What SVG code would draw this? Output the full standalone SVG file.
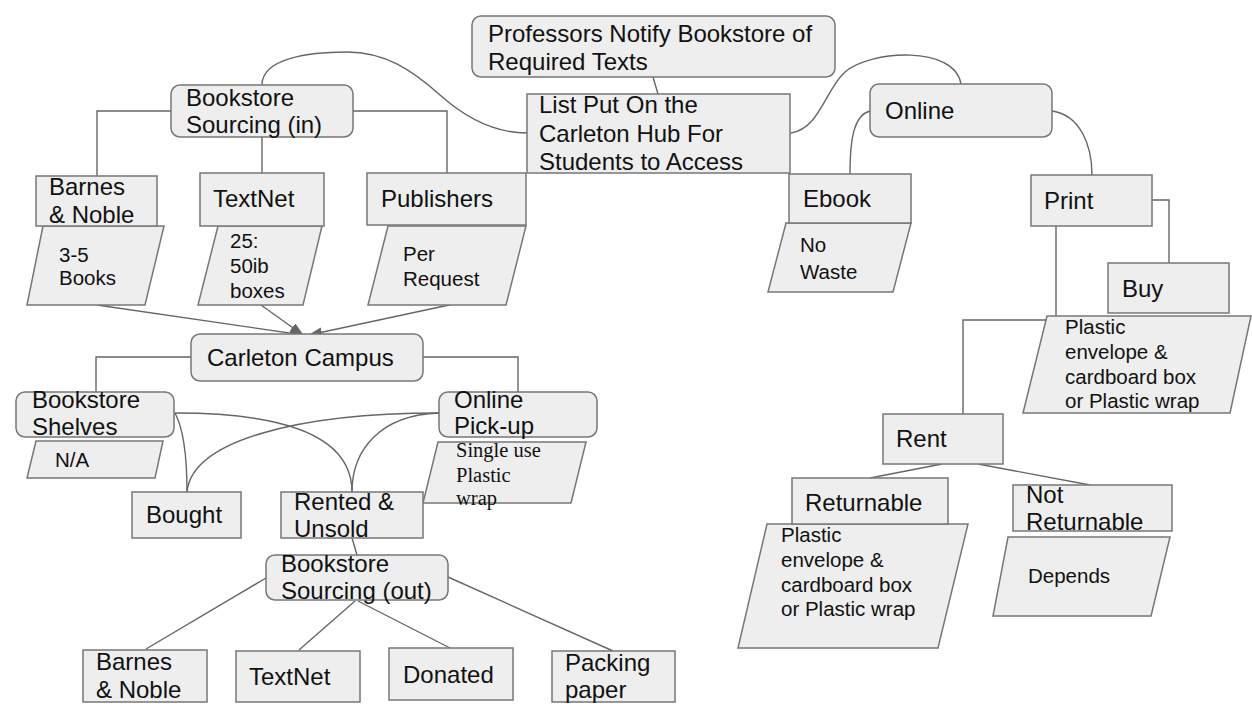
<svg xmlns="http://www.w3.org/2000/svg" width="1252" height="704" viewBox="0 0 1252 704">
<style>
.box{fill:#eeeeee;stroke:#777777;stroke-width:1.5}
.ln{fill:none;stroke:#666666;stroke-width:1.4}
.t{font-family:"Liberation Sans",Arial,sans-serif;font-size:24px;fill:#111111}
.s{font-family:"Liberation Sans",Arial,sans-serif;font-size:20.5px;fill:#111111}
.sf{font-family:"Liberation Serif","Times New Roman",serif;font-size:20.5px;fill:#111111}
</style>
<defs>
<marker id="ah" markerUnits="userSpaceOnUse" markerWidth="14" markerHeight="10" refX="13" refY="5" orient="auto">
<path d="M0,0 L14,5 L0,10 Z" fill="#666666"/>
</marker>
</defs>
<rect width="1252" height="704" fill="#ffffff"/>
<g id="connectors">
<path class="ln" d="M262,85 C262,58 310,52 347,52 C385,52 412,70 440,95 C468,120 498,133 527,133"/>
<path class="ln" d="M653,77 L658,94"/>
<path class="ln" d="M791,133 C820,128 825,90 845,72 C870,50 955,45 961,84"/>
<path class="ln" d="M171,111 H97 V176"/>
<path class="ln" d="M262,137 V173"/>
<path class="ln" d="M353,111 H447 V173"/>
<path class="ln" d="M97,305 L303,335" marker-end="url(#ah)"/>
<path class="ln" d="M261,305 L303,335" marker-end="url(#ah)"/>
<path class="ln" d="M463,302 L309,335" marker-end="url(#ah)"/>
<path class="ln" d="M191,357 H96 V392"/>
<path class="ln" d="M423,357 H518 V392"/>
<path class="ln" d="M175,413 C265,413 352,428 352,492"/>
<path class="ln" d="M175,413 C184,430 187,460 187,492"/>
<path class="ln" d="M187,492 C192,440 300,413 439,413"/>
<path class="ln" d="M439,413 C380,415 352,450 352,492"/>
<path class="ln" d="M352,538 L357,555"/>
<path class="ln" d="M266,578 L146,649"/>
<path class="ln" d="M355,601 L299,650"/>
<path class="ln" d="M358,601 L450,648"/>
<path class="ln" d="M448,577 L613,651"/>
<path class="ln" d="M870,111 C855,115 850,135 850,174"/>
<path class="ln" d="M1052,111 C1080,115 1092,145 1092,175"/>
<path class="ln" d="M1152,200 H1169 V263"/>
<path class="ln" d="M1056,217 V320 H963 V425"/>
<path class="ln" d="M942,464 L870,478"/>
<path class="ln" d="M978,464 L1090,485"/>
</g>
<g id="professors">
<rect class="box" x="472" y="16" width="363" height="61" rx="9"/>
<text class="t" x="488" y="42">Professors Notify Bookstore of</text>
<text class="t" x="488" y="70">Required Texts</text>
</g>
<g id="list">
<rect class="box" x="527" y="94" width="263" height="79"/>
<text class="t" x="539" y="113">List Put On the</text>
<text class="t" x="539" y="142">Carleton Hub For</text>
<text class="t" x="539" y="170">Students to Access</text>
</g>
<g id="sourcing-in">
<rect class="box" x="171" y="85" width="182" height="52" rx="9"/>
<text class="t" x="186" y="106">Bookstore</text>
<text class="t" x="186" y="133">Sourcing (in)</text>
</g>
<g id="bn-in">
<polygon class="box" points="43,226 164,226 145,305 27,305"/>
<rect class="box" x="36" y="176" width="121" height="50"/>
<text class="t" x="49" y="195">Barnes</text>
<text class="t" x="49" y="223">&amp; Noble</text>
<text class="s" x="59" y="262">3-5</text>
<text class="s" x="59" y="285">Books</text>
</g>
<g id="textnet-in">
<polygon class="box" points="218,226 322,226 303,305 198,305"/>
<rect class="box" x="200" y="173" width="124" height="53"/>
<text class="t" x="213" y="207">TextNet</text>
<text class="s" x="230" y="248">25:</text>
<text class="s" x="230" y="273">50ib</text>
<text class="s" x="230" y="298">boxes</text>
</g>
<g id="publishers">
<polygon class="box" points="388,226 526,226 506,305 368,305"/>
<rect class="box" x="367" y="173" width="159" height="52"/>
<text class="t" x="381" y="207">Publishers</text>
<text class="s" x="403" y="261">Per</text>
<text class="s" x="403" y="286">Request</text>
</g>
<g id="campus">
<rect class="box" x="191" y="334" width="232" height="47" rx="9"/>
<text class="t" x="207" y="366">Carleton Campus</text>
</g>
<g id="shelves">
<polygon class="box" points="36,441 163,441 155,478 27,478"/>
<rect class="box" x="16" y="392" width="158" height="45" rx="9"/>
<text class="t" x="32" y="408">Bookstore</text>
<text class="t" x="32" y="435">Shelves</text>
<text class="s" x="55" y="467">N/A</text>
</g>
<g id="pickup">
<polygon class="box" points="438,442 586,442 571,503 423,503"/>
<rect class="box" x="439" y="392" width="158" height="45" rx="9"/>
<text class="t" x="454" y="408">Online</text>
<text class="t" x="454" y="434">Pick-up</text>
<text class="sf" x="456" y="457">Single use</text>
<text class="sf" x="456" y="482">Plastic</text>
<text class="sf" x="456" y="505">wrap</text>
</g>
<g id="bought">
<rect class="box" x="132" y="492" width="109" height="46"/>
<text class="t" x="146" y="523">Bought</text>
</g>
<g id="rented">
<rect class="box" x="281" y="492" width="142" height="46"/>
<text class="t" x="294" y="510">Rented &amp;</text>
<text class="t" x="294" y="537">Unsold</text>
</g>
<g id="sourcing-out">
<rect class="box" x="266" y="555" width="182" height="45" rx="9"/>
<text class="t" x="281" y="572">Bookstore</text>
<text class="t" x="281" y="599">Sourcing (out)</text>
</g>
<g id="bn-out">
<rect class="box" x="83" y="650" width="124" height="52"/>
<text class="t" x="96" y="670">Barnes</text>
<text class="t" x="96" y="698">&amp; Noble</text>
</g>
<g id="textnet-out">
<rect class="box" x="236" y="651" width="124" height="51"/>
<text class="t" x="249" y="685">TextNet</text>
</g>
<g id="donated">
<rect class="box" x="389" y="648" width="124" height="52"/>
<text class="t" x="403" y="683">Donated</text>
</g>
<g id="packing">
<rect class="box" x="552" y="651" width="123" height="51"/>
<text class="t" x="565" y="671">Packing</text>
<text class="t" x="565" y="698">paper</text>
</g>
<g id="online">
<rect class="box" x="870" y="84" width="182" height="53" rx="9"/>
<text class="t" x="885" y="119">Online</text>
</g>
<g id="ebook">
<polygon class="box" points="786,223 911,223 893,292 768,292"/>
<rect class="box" x="789" y="174" width="122" height="49"/>
<text class="t" x="803" y="207">Ebook</text>
<text class="s" x="800" y="252">No</text>
<text class="s" x="800" y="279">Waste</text>
</g>
<g id="print">
<rect class="box" x="1031" y="175" width="121" height="51"/>
<text class="t" x="1044" y="209">Print</text>
</g>
<g id="buy">
<polygon class="box" points="1047,316 1251,316 1230,413 1023,413"/>
<rect class="box" x="1108" y="263" width="121" height="50"/>
<text class="t" x="1122" y="297">Buy</text>
<text class="s" x="1065" y="334">Plastic</text>
<text class="s" x="1065" y="359">envelope &amp;</text>
<text class="s" x="1065" y="384">cardboard box</text>
<text class="s" x="1065" y="408">or Plastic wrap</text>
</g>
<g id="rent">
<rect class="box" x="883" y="414" width="120" height="50"/>
<text class="t" x="896" y="447">Rent</text>
</g>
<g id="returnable">
<polygon class="box" points="767,524 968,524 938,648 738,648"/>
<rect class="box" x="792" y="478" width="156" height="46"/>
<text class="t" x="805" y="511">Returnable</text>
<text class="s" x="781" y="542">Plastic</text>
<text class="s" x="781" y="567">envelope &amp;</text>
<text class="s" x="781" y="592">cardboard box</text>
<text class="s" x="781" y="616">or Plastic wrap</text>
</g>
<g id="not-returnable">
<polygon class="box" points="1008,537 1170,537 1151,616 993,616"/>
<rect class="box" x="1013" y="485" width="159" height="46"/>
<text class="t" x="1026" y="503">Not</text>
<text class="t" x="1026" y="530">Returnable</text>
<text class="s" x="1028" y="583">Depends</text>
</g>
</svg>
